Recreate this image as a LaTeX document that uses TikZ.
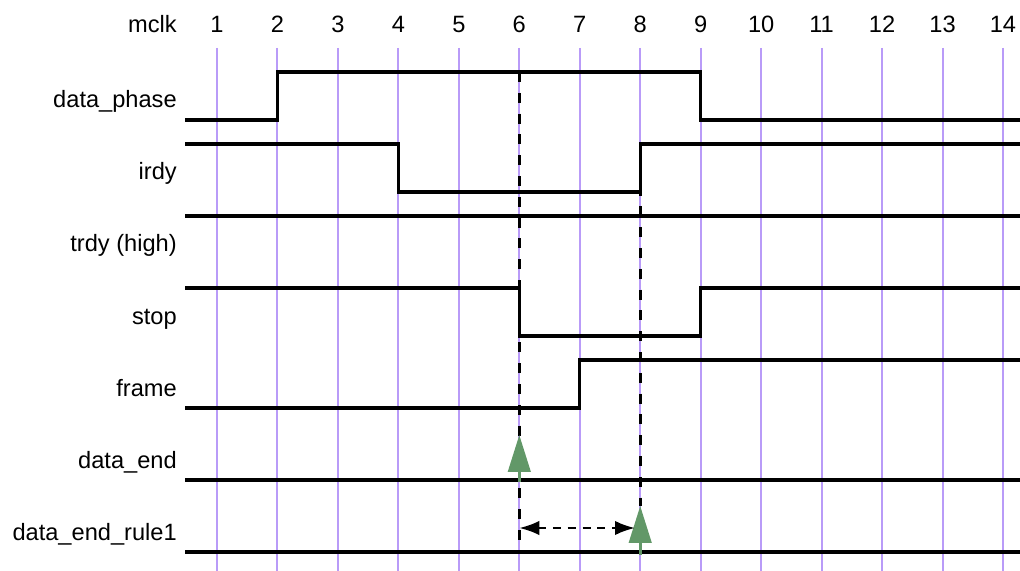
\documentclass[tikz,border=0pt]{standalone}
\usepackage{fontspec}
\setmainfont{Liberation Sans}
\usetikzlibrary{arrows.meta}
\definecolor{clkline}{RGB}{185,155,248}
\definecolor{markgreen}{RGB}{98,152,104}

\tikzset{
  clk/.style={clkline, line width=0.05cm},
  sig/.style={black, line width=0.08cm},
  guide/.style={black, line width=0.08cm, dash pattern=on 0.25cm off 0.27cm},
  event/.style={markgreen, line width=0.07cm, -{Triangle[width=0.56cm,length=0.92cm]}},
  span/.style={black, line width=0.06cm, dash pattern=on 0.2cm off 0.17cm,
    {Latex[length=0.5cm,width=0.36cm]}-{Latex[length=0.5cm,width=0.36cm]}},
  lbl/.style={anchor=base east, inner sep=0pt, font=\fontsize{16.8}{19}\selectfont},
  num/.style={anchor=base, inner sep=0pt, font=\fontsize{16.8}{19}\selectfont},
}

\begin{document}
\begin{tikzpicture}[x=0.025cm, y=-0.025cm]
  \useasboundingbox (0,0) rectangle (1020,571);

  % clock grid, one line per mclk edge
  \node[lbl] (mclk) at (177,33) {mclk};
  \foreach \n in {1,...,14} {
    \pgfmathsetmacro\cx{217+(\n-1)*60.46}
    \coordinate (c\n) at (\cx,48);
    \draw[clk] (c\n) -- (\cx,571);
    \node[num] (n\n) at (\cx,33) {\n};
  }

  % signal names
  \node[lbl] (phase) at (177,108) {data\_phase};
  \node[lbl] (irdy)  at (177,180) {irdy};
  \node[lbl] (trdy)  at (177,252) {trdy (high)};
  \node[lbl] (stop)  at (177,324) {stop};
  \node[lbl] (frame) at (177,396) {frame};
  \node[lbl] (dend)  at (177,468) {data\_end};
  \node[lbl] (drule) at (177,540) {data\_end\_rule1};

  % waveforms
  \draw[sig] (185,120) -- (277.46,120) -- (277.46,72) -- (700.68,72) -- (700.68,120) -- (1020,120);
  \draw[sig] (185,144) -- (398.38,144) -- (398.38,192) -- (640.22,192) -- (640.22,144) -- (1020,144);
  \draw[sig] (185,216) -- (1020,216);
  \draw[sig] (185,288) -- (519.30,288) -- (519.30,336) -- (700.68,336) -- (700.68,288) -- (1020,288);
  \draw[sig] (185,408) -- (579.76,408) -- (579.76,360) -- (1020,360);
  \draw[sig] (185,480) -- (1020,480);
  \draw[sig] (185,552) -- (1020,552);

  % markers at edges 6 and 8
  \coordinate (g6top) at (519.30,72);
  \coordinate (g6bot) at (519.30,545);
  \coordinate (g8top) at (640.22,144);
  \coordinate (g8bot) at (640.22,506);
  \draw[guide] (g6top) -- (g6bot);
  \draw[guide] (g8top) -- (g8bot);

  \coordinate (e6) at (519.30,482);
  \coordinate (e6tip) at (519.30,435);
  \coordinate (e8) at (640.22,555);
  \coordinate (e8tip) at (640.22,506);
  \draw[event] (e6) -- (e6tip);
  \draw[event] (e8) -- (e8tip);

  \coordinate (s6) at (519.30,528);
  \coordinate (s8) at (635,528);
  \draw[span] (s6) -- (s8);
\end{tikzpicture}
\end{document}
